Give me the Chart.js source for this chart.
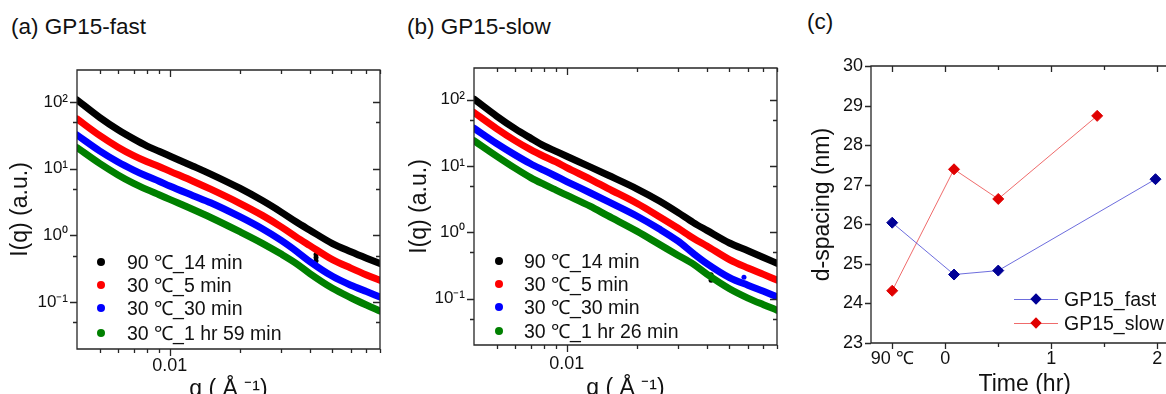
<!DOCTYPE html>
<html>
<head>
<meta charset="utf-8">
<title>GP15 scattering and d-spacing</title>
<script src="https://cdn.jsdelivr.net/npm/chart.js@4.4.1/dist/chart.umd.min.js"></script>
<style>
  html, body { margin: 0; padding: 0; background: #fff; }
  body { position: relative; width: 1166px; height: 394px; overflow: hidden;
         font-family: "Liberation Sans", Arial, sans-serif; color: #111; }
  canvas { position: absolute; top: 0; }
  .panel-title { position: absolute; font-size: 22.5px; line-height: 22px; white-space: nowrap; }
  .leg-row { position: absolute; height: 24px; line-height: 24px; font-size: 19.5px; white-space: nowrap; }
  .dot { position: absolute; left: 0; top: 8px; width: 8px; height: 8px; border-radius: 50%; }
  .seg { position: absolute; left: 0; top: 12px; width: 44px; height: 1px; }
  .dia { position: absolute; left: 18px; top: 8px; width: 8px; height: 8px; transform: rotate(45deg); }
</style>
</head>
<body>
<div class="panel-title" style="left:11px;top:16px">(a) GP15-fast</div>
<div class="panel-title" style="left:407px;top:16px">(b) GP15-slow</div>
<div class="panel-title" style="left:807px;top:11px">(c)</div>
<canvas id="chartA" width="400" height="410" style="left:0"></canvas>
<canvas id="chartB" width="400" height="410" style="left:400px"></canvas>
<canvas id="chartC" width="385" height="410" style="left:800px"></canvas>
<script>
// scattering vector q (1/A), shared by panels (a) and (b)
const qValues = [0.004, 0.005, 0.006, 0.007, 0.008, 0.009, 0.01, 0.0126, 0.015, 0.02, 0.025, 0.03, 0.035, 0.04, 0.05, 0.06, 0.07, 0.08];

// (a) GP15-fast, I(q) a.u.
const fast90C14min = [107, 58.6, 38.2, 27.9, 21.8, 18.2, 15.5, 10.9, 8.3, 5.1, 3.33, 2.26, 1.59, 1.2, 0.757, 0.571, 0.457, 0.38];
const fast30C5min = [55.7, 31.5, 21.0, 15.7, 12.7, 10.8, 9.2, 6.5, 4.93, 3.03, 2.0, 1.36, 0.946, 0.706, 0.435, 0.325, 0.257, 0.213];
const fast30C30min = [31.9, 18.5, 12.6, 9.55, 7.7, 6.5, 5.5, 3.95, 3.09, 1.91, 1.26, 0.851, 0.582, 0.407, 0.245, 0.18, 0.145, 0.12];
const fast30C119min = [20.7, 12.0, 8.07, 6.03, 4.85, 4.07, 3.47, 2.45, 1.86, 1.14, 0.764, 0.531, 0.38, 0.269, 0.162, 0.117, 0.091, 0.074];
const fastLabels = ['90 ℃_14 min', '30 ℃_5 min', '30 ℃_30 min', '30 ℃_1 hr 59 min'];

// (b) GP15-slow
const slow90C14min = [102, 56.6, 36.5, 26.3, 20.1, 16.6, 14.0, 9.7, 7.3, 4.53, 2.97, 2.0, 1.40, 1.07, 0.69, 0.527, 0.417, 0.341];
const slow30C5min = [64, 36.6, 24.1, 17.6, 13.9, 11.5, 9.44, 6.35, 4.6, 2.74, 1.72, 1.16, 0.815, 0.622, 0.388, 0.29, 0.232, 0.19];
const slow30C30min = [37.1, 21.8, 14.7, 10.8, 8.57, 7.0, 5.83, 3.95, 2.92, 1.76, 1.12, 0.741, 0.48, 0.338, 0.208, 0.159, 0.129, 0.107];
const slow30C86min = [24.1, 14.1, 9.27, 6.68, 5.26, 4.32, 3.63, 2.48, 1.78, 1.04, 0.658, 0.452, 0.331, 0.234, 0.141, 0.102, 0.081, 0.067];
const slowLabels = ['90 ℃_14 min', '30 ℃_5 min', '30 ℃_30 min', '30 ℃_1 hr 26 min'];

// a few stray points
const fastStrayQ = [0.0425, 0.0425, 0.0425];
const fastStrayI = [0.42, 0.47, 0.52];
const slowStrayQ = [0.0417, 0.0417];
const slowStrayI = [0.19, 0.23];
const slowStrayBlueQ = [0.0577];
const slowStrayBlueI = [0.21];

const seriesColors = ['#000000', '#ff0000', '#0000ff', '#008000'];

const qTickValues = [0.005, 0.006, 0.007, 0.008, 0.009, 0.01, 0.02, 0.03, 0.04, 0.05, 0.06, 0.07, 0.08];
const qTickLabels = ['', '', '', '', '', '0.01', '', '', '', '', '', '', ''];
const iTickValues = [0.05, 0.1, 0.5, 1, 5, 10, 50, 100];
const iTickLabels = ['', '10⁻¹', '', '10⁰', '', '10¹', '', '10²'];

// (c) d-spacing vs time
const timeTickValues = [-0.5, 0, 0.5, 1, 1.5, 2];
const timeTickLabels = ['90 ℃', '0', '', '1', '', '2'];
const fastTime = [-0.5, 0.083, 0.5, 1.983];
const fastSpacing = [26.04, 24.73, 24.83, 27.14];
const slowTime = [-0.5, 0.083, 0.5, 1.433];
const slowSpacing = [24.32, 27.39, 26.64, 28.74];

Chart.defaults.font.family = '"Liberation Sans", Arial, sans-serif';
Chart.defaults.color = '#111';
Chart.defaults.animation = false;

// box round the plot, ticks out on left/bottom and in on top/right
const framePlugin = {
  id: 'frame',
  afterDatasetsDraw(chart, args, o) {
    const {ctx, chartArea: a} = chart;
    const x = chart.scales.x, y = chart.scales.y;
    ctx.save();
    ctx.strokeStyle = '#262626';
    ctx.lineWidth = 1.3;
    ctx.beginPath();
    ctx.rect(a.left, a.top, a.right - a.left, a.bottom - a.top);
    x.ticks.forEach(t => {
      const p = Math.round(x.getPixelForValue(t.value)) + 0.5;
      const len = t.label !== '' ? o.major : o.minor;
      ctx.moveTo(p, a.bottom); ctx.lineTo(p, a.bottom + len);
      ctx.moveTo(p, a.top); ctx.lineTo(p, a.top + len);
    });
    y.ticks.forEach(t => {
      const p = Math.round(y.getPixelForValue(t.value)) + 0.5;
      const len = t.label !== '' ? o.major : o.minor;
      ctx.moveTo(a.left - len, p); ctx.lineTo(a.left, p);
      ctx.moveTo(a.right - len, p); ctx.lineTo(a.right, p);
    });
    ctx.stroke();
    ctx.restore();
  }
};

function points(xs, ys) {
  return xs.map((v, i) => ({x: v, y: ys[i]}));
}

function makeScatteringChart(id, series, stray, g) {
  const datasets = series.map((s, i) => ({
    data: points(qValues, s),
    borderColor: seriesColors[i],
    borderWidth: 7,
    pointRadius: 0,
    cubicInterpolationMode: 'monotone',
    borderCapStyle: 'round',
    borderJoinStyle: 'round'
  }));
  stray.forEach(st => datasets.push({
    data: points(st.q, st.i),
    showLine: false,
    pointRadius: 2.5,
    pointBorderWidth: 0,
    pointBackgroundColor: st.color
  }));

  new Chart(document.getElementById(id), {
    type: 'line',
    data: {datasets},
    plugins: [framePlugin],
    options: {
      responsive: false,
      layout: {padding: {top: g.top, right: g.right, left: 0, bottom: 0}},
      plugins: {legend: {display: false}, tooltip: {enabled: false},
                frame: {major: 7, minor: 4}},
      scales: {
        x: {
          type: 'logarithmic', min: 0.004, max: 0.08,
          grid: {display: false, drawTicks: false},
          border: {display: false},
          afterBuildTicks: s => { s.ticks = qTickValues.map(v => ({value: v})); },
          afterFit: s => { s.height = g.xh; },
          ticks: {autoSkip: false, maxRotation: 0, padding: g.xlab, font: {size: 18},
                  callback: (v, i) => qTickLabels[i]},
          title: {display: true, text: 'q ( Å ⁻¹)', font: {size: 23, lineHeight: 1.2},
                  padding: {top: 0, bottom: g.xtitle}}
        },
        y: {
          type: 'logarithmic', min: 0.02, max: 300,
          grid: {display: false, drawTicks: false},
          border: {display: false},
          afterBuildTicks: s => { s.ticks = iTickValues.map(v => ({value: v})); },
          afterFit: s => { s.width = g.yw; },
          ticks: {autoSkip: false, padding: 9, font: {size: 17},
                  callback: (v, i) => iTickLabels[i]},
          title: {display: true, text: 'I(q) (a.u.)', font: {size: 23, lineHeight: 1.2},
                  padding: {top: g.ytitle, bottom: 0}}
        }
      }
    }
  });
}

makeScatteringChart('chartA', [fast90C14min, fast30C5min, fast30C30min, fast30C119min],
  [{q: fastStrayQ, i: fastStrayI, color: '#000'}],
  {top: 70, right: 20, yw: 77, xh: 61, xlab: 6.5, xtitle: 6.5, ytitle: 7});

makeScatteringChart('chartB', [slow90C14min, slow30C5min, slow30C30min, slow30C86min],
  [{q: slowStrayQ, i: slowStrayI, color: '#000'}, {q: slowStrayBlueQ, i: slowStrayBlueI, color: '#0000ff'}],
  {top: 68, right: 23, yw: 74, xh: 65, xlab: 8, xtitle: 8, ytitle: 6.2});

new Chart(document.getElementById('chartC'), {
  type: 'line',
  data: {
    datasets: [
      {label: 'GP15_fast', data: points(fastTime, fastSpacing), borderColor: 'rgba(60,60,210,0.75)', borderWidth: 1,
       pointStyle: 'rectRot', pointRadius: 5.5, pointBorderWidth: 1,
       pointBackgroundColor: '#000096', pointBorderColor: '#000096', tension: 0},
      {label: 'GP15_slow', data: points(slowTime, slowSpacing), borderColor: 'rgba(235,70,70,0.8)', borderWidth: 1,
       pointStyle: 'rectRot', pointRadius: 5.5, pointBorderWidth: 1,
       pointBackgroundColor: '#e00000', pointBorderColor: '#e00000', tension: 0}
    ]
  },
  plugins: [framePlugin],
  options: {
    responsive: false,
    layout: {padding: {top: 66, right: 0, left: 0, bottom: 0}},
    plugins: {legend: {display: false}, tooltip: {enabled: false},
              frame: {major: 6, minor: 4}},
    scales: {
      x: {
        type: 'linear', min: -0.7, max: 2.2,
        grid: {display: false, drawTicks: false},
        border: {display: false},
        afterBuildTicks: s => { s.ticks = timeTickValues.map(v => ({value: v})); },
        afterFit: s => { s.height = 67; },
        ticks: {autoSkip: false, maxRotation: 0, padding: 5.7, font: {size: 18},
                callback: (v, i) => timeTickLabels[i]},
        title: {display: true, text: 'Time (hr)', font: {size: 23, lineHeight: 1.2},
                padding: {top: 0, bottom: 12}}
      },
      y: {
        type: 'linear', min: 23, max: 30,
        grid: {display: false, drawTicks: false},
        border: {display: false},
        afterFit: s => { s.width = 71; },
        ticks: {stepSize: 1, padding: 8, font: {size: 18}},
        title: {display: true, text: 'd-spacing (nm)', font: {size: 23, lineHeight: 1.2},
                padding: {top: 8.7, bottom: 0}}
      }
    }
  }
});

// legends (html text)
function dotLegend(left, textLeft, rowCenters, labels) {
  labels.forEach((txt, i) => {
    const row = document.createElement('div');
    row.className = 'leg-row';
    row.style.left = left + 'px';
    row.style.top = (rowCenters[i] - 12) + 'px';
    row.innerHTML = '<span class="dot" style="background:' + seriesColors[i] + '"></span>' +
      '<span style="position:absolute;left:' + (textLeft - left) + 'px">' + txt + '</span>';
    document.body.appendChild(row);
  });
}
dotLegend(97, 127, [261.7, 285, 308.3, 333.3], fastLabels);
dotLegend(495, 524, [260.7, 284, 307.3, 331.3], slowLabels);

const spacingLegend = [
  {label: 'GP15_fast', line: 'rgba(60,60,210,0.75)', mark: '#000096', cy: 299},
  {label: 'GP15_slow', line: 'rgba(235,70,70,0.8)', mark: '#e00000', cy: 323}
];
spacingLegend.forEach(l => {
  const row = document.createElement('div');
  row.className = 'leg-row';
  row.style.left = '1014px';
  row.style.top = (l.cy - 12) + 'px';
  row.innerHTML = '<span class="seg" style="background:' + l.line + '"></span>' +
    '<span class="dia" style="background:' + l.mark + '"></span>' +
    '<span style="position:absolute;left:50px">' + l.label + '</span>';
  document.body.appendChild(row);
});
</script>
</body>
</html>
